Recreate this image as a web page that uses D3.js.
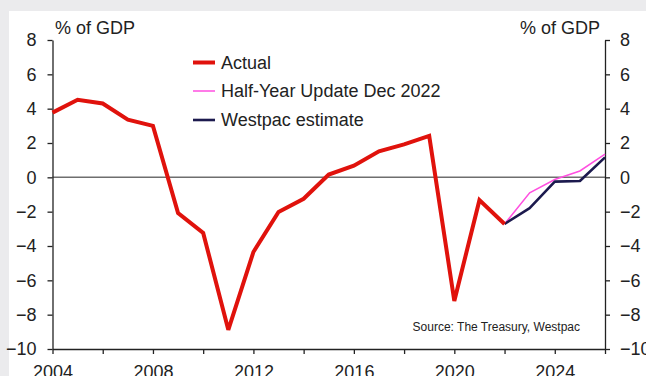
<!DOCTYPE html>
<html>
<head>
<meta charset="utf-8">
<script src="https://cdn.jsdelivr.net/npm/d3@7"></script>
<style>
  html, body { margin: 0; padding: 0; background: #ebebed; }
  svg { display: block; }
  text { font-family: "Liberation Sans", Arial, sans-serif; fill: #222; }
</style>
</head>
<body>
<svg id="chart" width="646" height="376"></svg>
<script>
// Federal budget balance, % of GDP
const actualYears = [2004, 2005, 2006, 2007, 2008, 2009, 2010, 2011, 2012, 2013,
                     2014, 2015, 2016, 2017, 2018, 2019, 2020, 2021, 2022];
const actualValues = [3.77, 4.52, 4.3, 3.36, 3.0, -2.08, -3.24, -8.88, -4.35, -2.02,
                      -1.25, 0.16, 0.68, 1.52, 1.92, 2.41, -7.2, -1.33, -2.72];

const forecastYears = [2022, 2023, 2024, 2025, 2026];
const halfYearValues = [-2.72, -0.9, -0.13, 0.37, 1.35];
const westpacValues = [-2.72, -1.79, -0.25, -0.21, 1.16];

const yTicks = [-10, -8, -6, -4, -2, 0, 2, 4, 6, 8];
const xTicks = [2004, 2006, 2008, 2010, 2012, 2014, 2016, 2018, 2020, 2022, 2024, 2026];
const xLabelYears = [2004, 2008, 2012, 2016, 2020, 2024];

const seriesNames = ["Actual", "Half-Year Update Dec 2022", "Westpac estimate"];
const unitLabel = "% of GDP";
const sourceNote = "Source: The Treasury, Westpac";

const colors = { actual: "#e0120c", half: "#ff4fe0", westpac: "#1c1a4e" };

const svg = d3.select("#chart");
const W = 646, H = 376;

// panel
svg.append("rect").attr("width", W).attr("height", H).attr("fill", "#ebebed");
svg.append("rect").attr("x", 9).attr("y", 11).attr("width", W - 9).attr("height", H - 11).attr("fill", "#fff");

const x = d3.scaleLinear().domain([2004, 2026]).range([52.5, 605]);
const y = d3.scaleLinear().domain([-10, 8]).range([349, 40]);

// zero line
svg.append("line")
  .attr("x1", x(2004)).attr("x2", x(2026))
  .attr("y1", y(0)).attr("y2", y(0))
  .attr("stroke", "#6e6e6e").attr("stroke-width", 1.5);

function styleAxis(g) {
  g.selectAll("path.domain").attr("stroke", "#222").attr("stroke-width", 1.3);
  g.selectAll(".tick line").attr("stroke", "#222").attr("stroke-width", 1.3);
  g.selectAll("text").attr("font-size", 18).attr("fill", "#222")
    .attr("font-family", '"Liberation Sans", Arial, sans-serif');
}

const leftAxis = d3.axisLeft(y).tickValues(yTicks).tickFormat(d3.format("d"))
  .tickSize(5).tickSizeOuter(0).tickPadding(11);
svg.append("g").attr("transform", `translate(${x(2004)},0)`).call(leftAxis).call(styleAxis);

const rightAxis = d3.axisRight(y).tickValues(yTicks).tickFormat(d3.format("d"))
  .tickSize(5).tickSizeOuter(0).tickPadding(10);
svg.append("g").attr("transform", `translate(${x(2026)},0)`).call(rightAxis).call(styleAxis);

const bottomAxis = d3.axisBottom(x).tickValues(xTicks)
  .tickFormat(d => xLabelYears.includes(d) ? String(d) : "")
  .tickSize(5).tickSizeOuter(0).tickPadding(11);
svg.append("g").attr("transform", `translate(0,${y(-10)})`).call(bottomAxis).call(styleAxis);

// unit labels
svg.append("text").attr("x", 55).attr("y", 34).attr("font-size", 18).text(unitLabel);
svg.append("text").attr("x", 600).attr("y", 34).attr("font-size", 18)
  .attr("text-anchor", "end").text(unitLabel);

const line = d3.line().x(d => x(d[0])).y(d => y(d[1]));

const actual = actualYears.map((yr, i) => [yr, actualValues[i]]);
const halfYear = forecastYears.map((yr, i) => [yr, halfYearValues[i]]);
const westpac = forecastYears.map((yr, i) => [yr, westpacValues[i]]);

svg.append("path").datum(halfYear).attr("d", line)
  .attr("fill", "none").attr("stroke", colors.half).attr("stroke-width", 1.5);
svg.append("path").datum(westpac).attr("d", line)
  .attr("fill", "none").attr("stroke", colors.westpac).attr("stroke-width", 2.6)
  .attr("stroke-linejoin", "round");
svg.append("path").datum(actual).attr("d", line)
  .attr("fill", "none").attr("stroke", colors.actual).attr("stroke-width", 4)
  .attr("stroke-linejoin", "miter").attr("stroke-miterlimit", 3);

// legend
const legend = [
  { name: seriesNames[0], color: colors.actual, w: 4, yy: 62.5 },
  { name: seriesNames[1], color: colors.half, w: 1.5, yy: 91 },
  { name: seriesNames[2], color: colors.westpac, w: 2.6, yy: 120 }
];
const lg = svg.append("g");
legend.forEach(d => {
  lg.append("line").attr("x1", 193).attr("x2", 215).attr("y1", d.yy).attr("y2", d.yy)
    .attr("stroke", d.color).attr("stroke-width", d.w);
  lg.append("text").attr("x", 221).attr("y", d.yy).attr("dy", "0.35em")
    .attr("font-size", 18).text(d.name);
});

// source note
svg.append("text").attr("x", 580).attr("y", 331).attr("font-size", 12)
  .attr("text-anchor", "end").text(sourceNote);
</script>
</body>
</html>
